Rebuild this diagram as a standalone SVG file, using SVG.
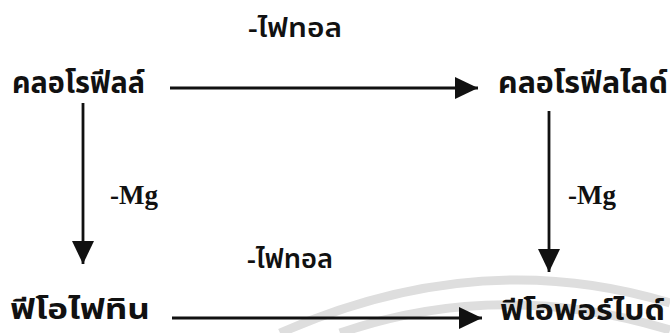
<svg xmlns="http://www.w3.org/2000/svg" width="670" height="333" viewBox="0 0 670 333">
<style>
.th{font-family:"Noto Sans Thai","Loma","Garuda","Norasi","Noto Sans","DejaVu Sans",sans-serif;font-weight:bold;fill:#111}
.big{font-size:30px}
.bot{font-size:28px}
.lab{font-size:26px;font-weight:600}
.mg{font-family:"Liberation Serif","Times New Roman",serif;font-weight:bold;font-size:27px;fill:#111}
.ln{stroke:#111;stroke-width:2.8;fill:none}
.wm{stroke:#dedede;stroke-width:9;fill:none}
</style>
<defs>
<marker id="ah" viewBox="0 0 23 22" refX="23" refY="11" markerWidth="23" markerHeight="22" markerUnits="userSpaceOnUse" orient="auto">
<path d="M0 0 L23 11 L0 22 Z" fill="#111"/>
</marker>
</defs>
<g id="watermark">
<path class="wm" d="M280 333 Q480 245 670 303"/>
<path class="wm" d="M340 333 Q500 278 670 330"/>
</g>
<g id="connectors">
<line class="ln" x1="170" y1="88" x2="478" y2="88" marker-end="url(#ah)"/>
<line class="ln" x1="172" y1="318" x2="482" y2="318" marker-end="url(#ah)"/>
<line class="ln" x1="83" y1="103" x2="83" y2="264" marker-end="url(#ah)"/>
<line class="ln" x1="549" y1="111" x2="549" y2="272" marker-end="url(#ah)"/>
</g>
<g id="n-chlorophyll"><text class="th big" x="12" y="93" textLength="133" lengthAdjust="spacingAndGlyphs">คลอโรฟีลล์</text></g>
<g id="n-chlorophyllide"><text class="th big" x="498" y="93" textLength="170" lengthAdjust="spacingAndGlyphs">คลอโรฟีลไลด์</text></g>
<g id="n-pheophytin"><text class="th bot" x="10" y="319" textLength="140" lengthAdjust="spacingAndGlyphs">ฟีโอไฟทิน</text></g>
<g id="n-pheophorbide"><text class="th bot" x="500" y="320" textLength="165" lengthAdjust="spacingAndGlyphs">ฟีโอฟอร์ไบด์</text></g>
<g id="labels">
<text class="th lab" x="248" y="37" textLength="94" lengthAdjust="spacingAndGlyphs">-ไฟทอล</text>
<text class="th lab" x="247" y="268" textLength="86" lengthAdjust="spacingAndGlyphs">-ไฟทอล</text>
<text class="mg" x="110" y="204">-Mg</text>
<text class="mg" x="568" y="204">-Mg</text>
</g>
</svg>
